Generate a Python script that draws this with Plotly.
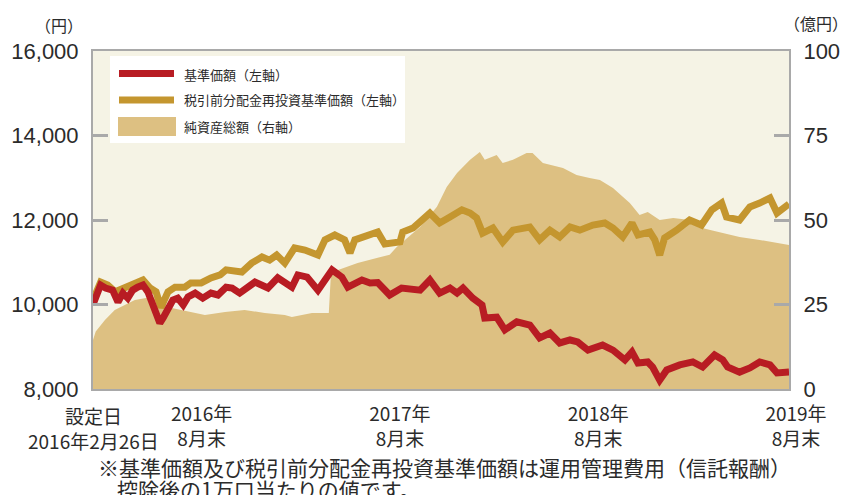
import plotly.graph_objects as go

# 基準価額 (円, left axis)
nav_dates = [
    "2016-02-26", "2016-03-01", "2016-03-11", "2016-03-20", "2016-04-02", "2016-04-12",
    "2016-04-21", "2016-04-30", "2016-05-09", "2016-05-18", "2016-05-28", "2016-06-06",
    "2016-06-15", "2016-06-21", "2016-06-28", "2016-07-04", "2016-07-13", "2016-07-22",
    "2016-07-31", "2016-08-10", "2016-08-19", "2016-09-01", "2016-09-15", "2016-09-30",
    "2016-10-13", "2016-10-28", "2016-11-08",
    "2016-11-22", "2016-12-20", "2017-01-13", "2017-01-31", "2017-02-26", "2017-03-09",
    "2017-03-26", "2017-04-15", "2017-05-11", "2017-05-29", "2017-06-09", "2017-07-05",
    "2017-07-20", "2017-08-03", "2017-08-25", "2017-09-16", "2017-10-20", "2017-11-07",
    "2017-11-25", "2017-12-14", "2017-12-27", "2018-01-07", "2018-01-25", "2018-02-11",
    "2018-02-16", "2018-03-10", "2018-03-25", "2018-04-16", "2018-05-10", "2018-05-28",
    "2018-06-16", "2018-07-04", "2018-07-23", "2018-08-06", "2018-08-25", "2018-09-21",
    "2018-10-10", "2018-11-01", "2018-11-14", "2018-11-25", "2018-12-13", "2018-12-22",
    "2019-01-04", "2019-01-17", "2019-02-10", "2019-03-06", "2019-03-24", "2019-04-15",
    "2019-04-30", "2019-05-09", "2019-05-31", "2019-06-19", "2019-07-07", "2019-07-26",
    "2019-08-08", "2019-08-30",
]
nav_values = [
    10000, 10105, 10460, 10390, 10340, 10060,
    10270, 10150, 10340, 10410, 10460, 10300,
    9990, 9700, 9560, 9680, 9870, 10105,
    10150, 9990, 10180, 10270, 10150, 10270,
    10225, 10410, 10390,
    10270, 10530, 10390, 10630, 10410, 10700,
    10650, 10340, 10820, 10650, 10410, 10580,
    10510, 10520, 10225, 10390, 10340, 10580,
    10270, 10390, 10270, 10390, 10150, 9990,
    9680, 9700, 9400, 9590, 9515, 9210,
    9325, 9090, 9160, 9115, 8920, 9040,
    8920, 8690, 8875, 8615, 8640, 8520,
    8210, 8450, 8570, 8640, 8520, 8805,
    8690, 8520, 8400, 8500, 8640, 8570,
    8380, 8400,
]

# 税引前分配金再投資基準価額 (円, left axis)
reinv_dates = [
    "2016-02-26", "2016-03-01", "2016-03-11", "2016-03-24", "2016-04-07", "2016-04-25",
    "2016-05-18", "2016-05-28", "2016-06-10", "2016-06-21", "2016-06-30", "2016-07-13",
    "2016-07-26", "2016-08-13", "2016-08-24", "2016-09-12", "2016-09-30", "2016-10-17",
    "2016-10-28", "2016-11-26", "2016-12-14",
    "2017-01-02", "2017-01-16", "2017-01-29", "2017-02-13", "2017-03-03", "2017-03-22",
    "2017-04-15", "2017-04-28", "2017-05-16", "2017-06-03", "2017-06-13", "2017-06-22",
    "2017-07-16", "2017-08-03", "2017-08-16", "2017-09-13", "2017-09-18", "2017-10-07",
    "2017-11-07", "2017-11-25", "2017-12-14", "2018-01-05", "2018-01-20", "2018-02-01",
    "2018-02-12", "2018-03-03", "2018-03-21", "2018-04-09", "2018-05-10", "2018-05-28",
    "2018-06-16", "2018-07-04", "2018-07-23", "2018-08-10", "2018-09-03", "2018-09-25",
    "2018-10-10", "2018-10-28", "2018-11-14", "2018-11-25", "2018-12-17", "2018-12-26",
    "2019-01-04", "2019-01-13", "2019-02-04", "2019-02-28", "2019-03-22", "2019-04-10",
    "2019-04-28", "2019-05-07", "2019-05-31", "2019-06-19", "2019-07-07", "2019-07-26",
    "2019-08-08", "2019-08-28", "2019-08-30",
]
reinv_values = [
    10000, 10225, 10530, 10460, 10300, 10390,
    10530, 10580, 10390, 10300, 9930, 10300,
    10410, 10410, 10510, 10510, 10630, 10700,
    10820, 10770, 10980,
    11125, 11050, 11170, 10980, 11340, 11290,
    11170, 11530, 11645, 11530, 11220, 11530,
    11645, 11715, 11430, 11480, 11715, 11810,
    12165, 11930, 12070, 12240, 12165, 12050,
    11690, 11810, 11480, 11760, 11835, 11530,
    11760, 11600, 11835, 11760, 11880, 11930,
    11810, 11600, 11930, 11645, 11715, 11530,
    11170, 11575, 11760, 12000, 11880, 12240,
    12400, 12070, 12000, 12310, 12400, 12520,
    12165, 12355, 12380,
]

# 純資産総額 (億円, right axis)
assets_dates = [
    "2016-02-26", "2016-03-02", "2016-03-19", "2016-04-06", "2016-05-13", "2016-06-13",
    "2016-07-20", "2016-09-01", "2016-09-19", "2016-10-26", "2016-12-01", "2017-01-07",
    "2017-02-13", "2017-02-26", "2017-04-04", "2017-05-05", "2017-05-09", "2017-05-22",
    "2017-06-27", "2017-08-03", "2017-08-25", "2017-09-07", "2017-10-20", "2017-11-20",
    "2017-12-08", "2017-12-27", "2018-01-20", "2018-02-07", "2018-02-16", "2018-03-10",
    "2018-03-21", "2018-04-09", "2018-05-04", "2018-05-15", "2018-06-03", "2018-07-10",
    "2018-08-04", "2018-08-28", "2018-09-16", "2018-10-10", "2018-11-10", "2018-11-28",
    "2018-12-13", "2019-01-04", "2019-01-29", "2019-02-28", "2019-03-16", "2019-04-09",
    "2019-05-31", "2019-07-07", "2019-08-30",
]
assets_values = [
    14.5, 17.0, 20.4, 23.4, 26.3, 27.2,
    24.0, 22.5, 21.9, 22.8, 23.4, 22.5,
    21.9, 21.3, 22.5, 22.5, 34.3, 35.2,
    37.3, 38.8, 39.7, 42.0, 47.9, 53.9,
    59.8, 63.9, 67.8, 70.1, 67.8, 69.2,
    66.9, 67.8, 69.8, 69.8, 66.9, 65.4,
    63.3, 62.4, 61.8, 59.5, 55.0, 51.5,
    52.4, 50.0, 50.6, 50.0, 47.9, 47.0,
    45.0, 44.1, 42.6,
]

x_range = ["2016-02-26", "2019-08-30"]
tick_dates = ["2016-08-31", "2017-08-31", "2018-08-31", "2019-08-30"]
tick_labels = ["2016年<br>8月末", "2017年<br>8月末", "2018年<br>8月末", "2019年<br>8月末"]
left_ticks = [8000, 10000, 12000, 14000, 16000]
right_ticks = [0, 25, 50, 75, 100]

RED = "#b81c23"
GOLD = "#c4962f"
FILL = "#ddc082"
BG = "#f5f3e5"
AXIS = "#a9a9a9"
TEXT = "#2b2b2b"
JP = "Noto Sans CJK JP"
NUM = "Liberation Sans"

fig = go.Figure()
fig.add_trace(go.Scatter(
    x=assets_dates, y=assets_values, yaxis="y", mode="lines",
    line=dict(width=0, color=FILL), fill="tozeroy", fillcolor=FILL,
    name="純資産総額（右軸）", showlegend=False, hoverinfo="skip",
))
fig.add_trace(go.Scatter(
    x=reinv_dates, y=reinv_values, yaxis="y2", mode="lines",
    line=dict(width=7, color=GOLD), name="税引前分配金再投資基準価額（左軸）",
    showlegend=False,
))
fig.add_trace(go.Scatter(
    x=nav_dates, y=nav_values, yaxis="y2", mode="lines",
    line=dict(width=7, color=RED), name="基準価額（左軸）", showlegend=False,
))

L, R, T, B = 93, 789, 51, 389
W, H = 849, 495


def px(xp):
    return (xp - L) / (R - L)


def py(yp):
    return (B - yp) / (B - T)


axis_common = dict(
    showline=True, linecolor=AXIS, linewidth=2, showgrid=False, zeroline=False,
    ticks="inside", ticklen=15, tickwidth=2.5, tickcolor=AXIS, automargin=False,
    tickfont=dict(family=NUM, size=22, color=TEXT), ticklabelstandoff=8,
)

fig.update_layout(
    width=W, height=H, autosize=False,
    margin=dict(l=L, r=W - R, t=T, b=H - B, autoexpand=False),
    paper_bgcolor="white", plot_bgcolor=BG,
    font=dict(family=JP, color=TEXT),
    showlegend=False,
    xaxis=dict(
        type="date", range=x_range, showline=True, linecolor=AXIS, linewidth=2,
        mirror=True, showgrid=False, zeroline=False, ticks="", automargin=False,
        tickvals=tick_dates, ticktext=tick_labels,
        tickfont=dict(family=JP, size=19, color=TEXT),
        ticklabelshift=7, ticklabelstandoff=7,
    ),
    yaxis=dict(side="right", range=[0, 100], tickvals=right_ticks, **axis_common),
    yaxis2=dict(side="left", overlaying="y", range=[8000, 16000],
                tickvals=left_ticks, tickformat=",d", **axis_common),
)

# legend box drawn as shapes + text
shapes = [
    dict(type="rect", xref="paper", yref="paper", x0=px(110), x1=px(405),
         y0=py(143), y1=py(56), fillcolor="white", line=dict(width=0), layer="above"),
    dict(type="line", xref="paper", yref="paper", x0=px(119), x1=px(174),
         y0=py(73.5), y1=py(73.5), line=dict(color=RED, width=7), layer="above"),
    dict(type="line", xref="paper", yref="paper", x0=px(119), x1=px(174),
         y0=py(100), y1=py(100), line=dict(color=GOLD, width=7), layer="above"),
    dict(type="rect", xref="paper", yref="paper", x0=px(118), x1=px(176),
         y0=py(136), y1=py(117), fillcolor=FILL, line=dict(width=0), layer="above"),
]
fig.update_layout(shapes=shapes)

legend_texts = [("基準価額（左軸）", 74), ("税引前分配金再投資基準価額（左軸）", 100),
                ("純資産総額（右軸）", 126)]
annotations = []
for txt, yy in legend_texts:
    annotations.append(dict(text=txt, xref="paper", yref="paper", x=px(182), y=py(yy),
                            xanchor="left", yanchor="middle", showarrow=False,
                            font=dict(family=JP, size=13, color=TEXT)))

annotations += [
    dict(text="（設定日（2016年2月26日）～2019年8月30日）", xref="paper", yref="paper",
         x=px(8), y=py(4), xanchor="left", yanchor="bottom", showarrow=False,
         font=dict(family=JP, size=21, color=TEXT)),
    dict(text="（円）", xref="paper", yref="paper", x=px(59), y=py(25),
         xanchor="center", yanchor="middle", showarrow=False,
         font=dict(family=JP, size=16, color=TEXT)),
    dict(text="（億円）", xref="paper", yref="paper", x=px(816), y=py(23),
         xanchor="center", yanchor="middle", showarrow=False,
         font=dict(family=JP, size=16, color=TEXT)),
    dict(text="設定日<br>2016年2月26日", xref="x", yref="paper", x=x_range[0], y=py(400),
         xanchor="center", yanchor="top", showarrow=False,
         font=dict(family=JP, size=19, color=TEXT)),
    dict(text="※基準価額及び税引前分配金再投資基準価額は運用管理費用（信託報酬）",
         xref="paper", yref="paper", x=px(96), y=py(467), xanchor="left", yanchor="middle",
         showarrow=False, font=dict(family=JP, size=21, color=TEXT)),
    dict(text="控除後の1万口当たりの値です。",
         xref="paper", yref="paper", x=px(115), y=py(489), xanchor="left", yanchor="middle",
         showarrow=False, font=dict(family=JP, size=21, color=TEXT)),
]
fig.update_layout(annotations=annotations)

fig.write_html(
    "out.html",
    config={"displayModeBar": False},
    post_script="document.body.style.margin='0';document.body.style.overflow='hidden';",
)
